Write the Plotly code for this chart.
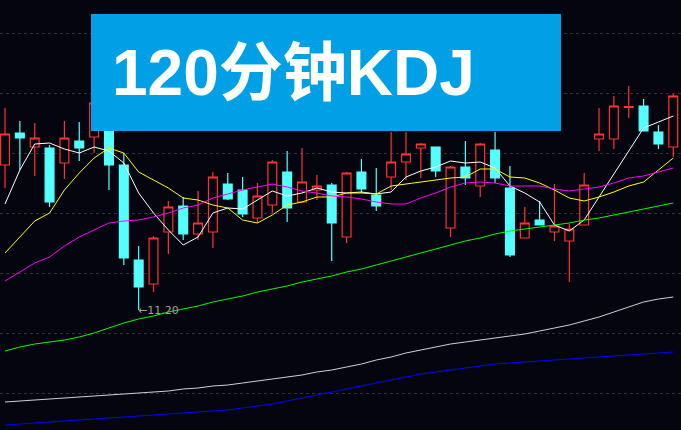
import plotly.graph_objects as go

# 120-minute candles (price)
opens = [12.65, 12.97, 12.83, 12.82, 12.67, 12.89, 12.93, 13.00, 12.65, 11.70, 11.46, 11.98, 12.24, 11.96, 11.98, 12.46,
         12.40, 12.12, 12.25, 12.58, 12.28, 12.40, 12.45, 11.93, 12.58, 12.35, 12.53, 12.68, 12.82, 12.83, 12.02, 12.63,
         12.44, 12.80, 12.42, 11.92, 12.10, 11.98, 11.89, 12.05, 12.91, 12.91, 13.225, 13.24, 12.98, 12.83]
highs = [13.22, 13.09, 13.07, 12.85, 13.09, 13.08, 13.35, 13.10, 12.77, 11.84, 11.94, 12.29, 12.33, 12.39, 12.58, 12.57,
         12.53, 12.47, 12.70, 12.79, 12.82, 12.55, 12.47, 12.58, 12.71, 12.62, 12.98, 12.98, 12.87, 12.83, 12.64, 12.89,
         12.87, 12.98, 12.64, 12.23, 12.29, 12.46, 12.06, 12.57, 13.22, 13.34, 13.44, 13.31, 13.05, 13.36]
lows = [12.42, 12.60, 12.54, 12.23, 12.51, 12.69, 12.77, 12.40, 11.65, 11.20, 11.38, 11.76, 11.90, 11.90, 11.82, 12.30,
        12.13, 12.07, 12.17, 12.08, 12.27, 12.30, 11.69, 11.87, 12.37, 12.19, 12.40, 12.50, 12.52, 12.53, 11.93, 12.45,
        12.33, 12.47, 11.73, 11.92, 12.05, 11.89, 11.48, 12.05, 12.79, 12.81, 13.12, 12.99, 12.81, 12.73]
closes = [12.96, 12.92, 12.92, 12.28, 12.92, 12.82, 13.27, 12.65, 11.72, 11.43, 11.92, 12.23, 11.96, 12.07, 12.53, 12.31,
          12.16, 12.34, 12.68, 12.22, 12.48, 12.44, 12.07, 12.57, 12.41, 12.24, 12.68, 12.76, 12.86, 12.59, 12.63, 12.52,
          12.86, 12.52, 11.75, 12.07, 12.05, 12.04, 12.01, 12.45, 12.96, 13.24, 13.235, 12.99, 12.86, 13.34]

# moving averages
ma5 = [12.26, 12.60, 12.86, 12.87, 12.81, 12.77, 12.83, 12.79, 12.67, 12.37, 12.17, 12.00, 11.85, 11.93, 12.17, 12.22,
       12.21, 12.30, 12.39, 12.34, 12.37, 12.42, 12.38, 12.37, 12.38, 12.36, 12.38, 12.53, 12.59, 12.63, 12.69, 12.67,
       12.68, 12.62, 12.44, 12.37, 12.28, 12.05, 11.99, 12.10, 12.33, 12.57, 12.80, 13.02, 13.08, 13.14]
ma10 = [11.77, 11.93, 12.09, 12.17, 12.40, 12.57, 12.72, 12.82, 12.77, 12.58, 12.50, 12.42, 12.32, 12.30, 12.25, 12.22,
        12.10, 12.07, 12.15, 12.25, 12.28, 12.33, 12.33, 12.37, 12.37, 12.36, 12.44, 12.46, 12.48, 12.50, 12.52, 12.53,
        12.61, 12.61, 12.53, 12.52, 12.47, 12.40, 12.32, 12.29, 12.33, 12.38, 12.44, 12.48, 12.60, 12.72]
ma20 = [11.49, 11.58, 11.67, 11.73, 11.84, 11.93, 12.00, 12.07, 12.09, 12.10, 12.13, 12.17, 12.22, 12.25, 12.32, 12.36,
        12.40, 12.43, 12.46, 12.43, 12.39, 12.37, 12.34, 12.33, 12.31, 12.28, 12.26, 12.26, 12.32, 12.37, 12.43, 12.47,
        12.48, 12.47, 12.44, 12.44, 12.44, 12.41, 12.39, 12.41, 12.43, 12.47, 12.52, 12.54, 12.58, 12.62]
ma60 = [10.79, 10.83, 10.86, 10.88, 10.90, 10.93, 10.97, 11.02, 11.07, 11.11, 11.14, 11.18, 11.21, 11.24, 11.28, 11.31,
        11.34, 11.38, 11.41, 11.44, 11.48, 11.51, 11.54, 11.58, 11.61, 11.65, 11.69, 11.73, 11.77, 11.81, 11.85, 11.89,
        11.92, 11.96, 11.99, 12.01, 12.03, 12.05, 12.07, 12.10, 12.12, 12.15, 12.18, 12.21, 12.24, 12.27]
ma120 = [10.28, 10.29, 10.30, 10.31, 10.32, 10.33, 10.34, 10.35, 10.36, 10.37, 10.38, 10.39, 10.41, 10.42, 10.44, 10.45,
         10.47, 10.49, 10.51, 10.53, 10.55, 10.58, 10.60, 10.63, 10.66, 10.70, 10.73, 10.77, 10.80, 10.83, 10.86, 10.88,
         10.90, 10.92, 10.94, 10.96, 10.99, 11.02, 11.05, 11.09, 11.13, 11.18, 11.23, 11.28, 11.31, 11.33]
ma250 = [10.05, 10.06, 10.07, 10.08, 10.09, 10.10, 10.11, 10.12, 10.13, 10.14, 10.15, 10.16, 10.17, 10.18, 10.19, 10.20,
         10.22, 10.24, 10.26, 10.29, 10.32, 10.35, 10.38, 10.41, 10.44, 10.47, 10.50, 10.53, 10.56, 10.58, 10.60, 10.62,
         10.64, 10.66, 10.67, 10.68, 10.69, 10.70, 10.71, 10.72, 10.73, 10.74, 10.75, 10.76, 10.77, 10.78]
grid_prices = [13.97, 13.37, 12.77, 12.17, 11.57, 10.97, 10.37]

bg = "#05050f"
idx = list(range(len(opens)))

fig = go.Figure()
fig.add_trace(go.Candlestick(
    x=idx, open=opens, high=highs, low=lows, close=closes, whiskerwidth=0,
    increasing=dict(line=dict(color="#ff3232", width=1.2), fillcolor=bg),
    decreasing=dict(line=dict(color="#54ffff", width=1.2), fillcolor="#54ffff"),
))
for vals, col in [(ma5, "#ffffff"), (ma10, "#ffff00"), (ma20, "#ff00ff"), (ma60, "#00ff00"),
                  (ma120, "#d0d0d0"), (ma250, "#0000ff")]:
    fig.add_trace(go.Scatter(x=idx, y=vals, mode="lines", line=dict(color=col, width=1)))

low_i = lows.index(min(lows))
fig.add_annotation(x=low_i, y=lows[low_i], text="←%.2f" % lows[low_i], showarrow=False,
                   xanchor="left", xshift=-3, font=dict(color="#a0a0a0", size=11, family="DejaVu Sans"))

# title box
fig.add_shape(type="rect", xref="paper", yref="paper", x0=91 / 681, x1=561 / 681,
              y0=1 - 131 / 430, y1=1 - 14 / 430, fillcolor="#00a0e6", line=dict(width=0))
fig.add_annotation(xref="paper", yref="paper", x=110 / 681, y=1 - 73 / 430, text="<b>120分钟KDJ</b>",
                   showarrow=False, xanchor="left", yanchor="middle",
                   font=dict(color="white", size=64, family="Liberation Sans, Noto Sans CJK SC"))

fig.update_layout(
    width=681, height=430, margin=dict(l=0, r=0, t=0, b=0, pad=0, autoexpand=False),
    paper_bgcolor=bg, plot_bgcolor=bg, showlegend=False, boxgap=0.15,
    xaxis=dict(range=[-0.337, 45.52], visible=False, rangeslider=dict(visible=False)),
    yaxis=dict(range=[10.0, 14.30], tickvals=grid_prices, showticklabels=False, zeroline=False,
               gridcolor="#333333", griddash="dot", gridwidth=1),
)
fig.write_html("out.html", config={"displayModeBar": False})

# drop the browser's default page margin
with open("out.html", encoding="utf-8") as f:
    page = f.read()
page = page.replace("<body>", '<body style="margin:0;background:%s">' % bg, 1)
with open("out.html", "w", encoding="utf-8") as f:
    f.write(page)
